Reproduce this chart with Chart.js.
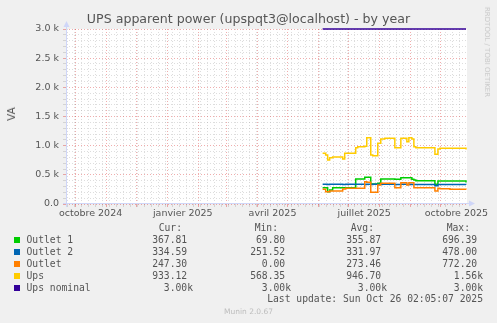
<!DOCTYPE html>
<html>
<head>
<meta charset="utf-8">
<script src="https://cdn.jsdelivr.net/npm/chart.js@4"></script>
<style>
  body { margin: 0; background: #f0f0f0; }
  #wrap { position: relative; width: 497px; height: 323px; overflow: hidden; font-family: "DejaVu Sans", sans-serif; color: #555; }
  #chart { position: absolute; left: 0; top: 0; }
  .t { position: absolute; white-space: pre; }
  .mono { font-family: "DejaVu Sans Mono", monospace; font-size: 9.7px; line-height: 12px; color: #555; }
  .sq { position: absolute; width: 6px; height: 6px; }
</style>
</head>
<body>
<div id="wrap">
  <canvas id="chart" width="497" height="323"></canvas>
  <div class="t" id="title" style="left:0;width:497px;top:11px;text-align:center;font-size:12.6px;color:#555;">UPS apparent power (upspqt3@localhost) - by year</div>
  <div class="t" style="left:11px;top:114px;font-size:10.5px;transform:translate(-50%,-50%) rotate(-90deg);">VA</div>
  <div class="t" style="left:487px;top:52px;font-size:7px;color:#c8c8c8;transform:translate(-50%,-50%) rotate(90deg);">RRDTOOL / TOBI OETIKER</div>
  <div class="t" style="left:0;width:497px;top:307px;text-align:center;font-size:7.5px;color:#bdbdbd;">Munin 2.0.67</div>
  <div id="legend"></div>
</div>
<script>
// series (x = days since 22 Sep 2024, the left edge of the graph)
const sampleDays = [256, 259, 261, 263, 266, 276, 278, 279, 289, 291, 298, 300, 304, 306, 311, 314, 318, 328, 334, 340, 342, 345, 347, 349, 368, 371, 373, 383, 399];
const outlet1 = [280, 280, 211, 240, 280, 280, 280, 280, 429, 429, 457, 457, 345, 345, 354, 429, 429, 423, 451, 451, 451, 423, 411, 400, 337, 394, 394, 394, 368];
const outlet2 = [340, 338, 336, 338, 338, 336, 336, 338, 338, 338, 336, 338, 336, 338, 336, 338, 338, 336, 338, 336, 338, 336, 336, 336, 314, 335, 336, 336, 335];
const outlet = [251, 211, 211, 223, 223, 257, 257, 269, 269, 269, 383, 371, 200, 200, 326, 354, 354, 280, 366, 326, 366, 366, 280, 280, 223, 269, 260, 255, 247];
const ups = [869, 840, 754, 794, 806, 771, 869, 869, 966, 983, 990, 1137, 840, 829, 1040, 1114, 1126, 966, 1126, 1068, 1137, 1114, 983, 966, 851, 943, 954, 954, 933];
const nominalDays = [256, 399];
const upsNominal = [3000, 3000];

const seriesNames = ["Outlet 1", "Outlet 2", "Outlet", "Ups", "Ups nominal"];
const seriesColors = ["#00cc00", "#0066b3", "#ff8000", "#ffcc00", "#330099"];
const curVals = [367.81, 334.59, 247.30, 933.12, 3000];
const minVals = [69.80, 251.52, 0.00, 568.35, 3000];
const avgVals = [355.87, 331.97, 273.46, 946.70, 3000];
const maxVals = [696.39, 478.00, 772.20, 1560, 3000];

// x tick labels: [year, month index]
const xLabelMonths = [[2024, 9], [2025, 0], [2025, 3], [2025, 6], [2025, 9]];
const xLabels = ["octobre 2024", "janvier 2025", "avril 2025", "juillet 2025", "octobre 2025"];

const DAY = 864e5;
const startUTC = Date.UTC(2024, 8, 22);
const dayOf = (y, m, d) => (Date.UTC(y, m, d) - startUTC) / DAY;

function buildXTicks() {
  const ticks = [];
  const monthStarts = [];
  for (let y = 2024, m = 9; ; m++) {
    if (m > 11) { m = 0; y++; }
    monthStarts.push(dayOf(y, m, 1));
    if (y === 2025 && m === 9) break;
  }
  for (let d = 1; d < 400; d += 7) {
    if (!monthStarts.includes(d)) ticks.push({ value: d, kind: "week" });
  }
  monthStarts.forEach((d) => ticks.push({ value: d, kind: "month" }));
  xLabelMonths.forEach(([y, m], i) => {
    const s = dayOf(y, m, 1);
    const len = dayOf(y, m + 1, 1) - s;
    ticks.push({ value: s + len / 2, kind: "label", text: xLabels[i] });
  });
  return ticks.sort((a, b) => a.value - b.value);
}

const pts = (xs, ys) => xs.map((x, i) => ({ x: x, y: ys[i] }));
const seriesData = [
  pts(sampleDays, outlet1),
  pts(sampleDays, outlet2),
  pts(sampleDays, outlet),
  pts(sampleDays, ups),
  pts(nominalDays, upsNominal),
];

const axisColor = "#cfd6f8";
const minorGrid = "rgba(150,150,150,0.32)";
const majorGrid = "rgba(220,60,60,0.42)";

// white canvas behind the plot, solid axis lines with arrows on top
const canvasDecor = {
  id: "canvasDecor",
  beforeDraw(chart) {
    const { ctx, chartArea: a } = chart;
    ctx.save();
    ctx.fillStyle = "#ffffff";
    ctx.fillRect(a.left, a.top, a.right - a.left, a.bottom - a.top);
    ctx.restore();
  },
  afterDraw(chart) {
    const { ctx, chartArea: a } = chart;
    const x0 = Math.round(a.left) + 0.5;
    const y0 = Math.round(a.bottom) - 0.5;
    ctx.save();
    ctx.strokeStyle = axisColor;
    ctx.fillStyle = axisColor;
    ctx.lineWidth = 1;
    ctx.beginPath();
    ctx.moveTo(x0, a.bottom + 3);
    ctx.lineTo(x0, a.top - 3);
    ctx.moveTo(a.left - 3, y0);
    ctx.lineTo(a.right + 3, y0);
    ctx.stroke();
    ctx.beginPath();
    ctx.moveTo(x0 - 3, a.top - 2);
    ctx.lineTo(x0 + 3, a.top - 2);
    ctx.lineTo(x0, a.top - 8);
    ctx.closePath();
    ctx.fill();
    ctx.beginPath();
    ctx.moveTo(a.right + 2, y0 - 3);
    ctx.lineTo(a.right + 2, y0 + 3);
    ctx.lineTo(a.right + 8, y0);
    ctx.closePath();
    ctx.fill();
    ctx.restore();
  },
};

new Chart(document.getElementById("chart").getContext("2d"), {
  type: "line",
  data: {
    datasets: seriesNames.map((name, i) => ({
      label: name,
      data: seriesData[i],
      borderColor: seriesColors[i],
      backgroundColor: seriesColors[i],
      borderWidth: 1.5,
      pointRadius: 0,
      stepped: true,
      fill: false,
      clip: 3,
      order: 4 - i,
    })),
  },
  options: {
    responsive: false,
    animation: false,
    devicePixelRatio: 1,
    layout: { padding: { left: 0, top: 29, right: 30, bottom: 99 } },
    plugins: { legend: { display: false }, tooltip: { enabled: false }, title: { display: false } },
    scales: {
      x: {
        type: "linear",
        min: 0,
        max: 400,
        afterBuildTicks(scale) { scale.ticks = buildXTicks(); },
        afterFit(scale) { scale.height = 20; },
        ticks: {
          autoSkip: false,
          maxRotation: 0,
          padding: 1,
          color: "#555",
          font: { family: "DejaVu Sans", size: 9.5 },
          callback(value, index, ticks) { return ticks[index].kind === "label" ? ticks[index].text : ""; },
        },
        grid: {
          tickLength: 3,
          color(ctx) {
            const k = ctx.tick && ctx.tick.kind;
            if (k === "month") return majorGrid;
            if (k === "week") return minorGrid;
            return "rgba(0,0,0,0)";
          },
        },
        border: { display: false, dash: [1, 2] },
      },
      y: {
        min: 0,
        max: 3000,
        afterFit(scale) { scale.width = 66; },
        ticks: {
          stepSize: 100,
          autoSkip: false,
          padding: 4,
          color: "#555",
          font: { family: "DejaVu Sans", size: 9.5 },
          callback(value) {
            if (value % 500 !== 0) return "";
            return value === 0 ? "0.0" : (value / 1000).toFixed(1) + " k";
          },
        },
        grid: {
          tickLength: 3,
          color(ctx) {
            const v = ctx.tick ? ctx.tick.value : 0;
            return v % 500 === 0 ? majorGrid : minorGrid;
          },
        },
        border: { display: false, dash: [1, 2] },
      },
    },
  },
  plugins: [canvasDecor],
});

// legend table
const fmt = (v) => (v >= 1000 ? (v / 1000).toFixed(2) + "k" : v.toFixed(2) + " ");
const legend = document.getElementById("legend");
const colRight = [193, 291, 387, 483];
const headRight = [182, 278, 374, 470];
const heads = ["Cur:", "Min:", "Avg:", "Max:"];
const cols = [curVals, minVals, avgVals, maxVals];
let html = "";
heads.forEach((h, c) => {
  html += `<div class="t mono" style="right:${497 - headRight[c]}px;top:222px;">${h}</div>`;
});
seriesNames.forEach((name, i) => {
  const top = 234 + 12 * i;
  html += `<div class="sq" style="left:14px;top:${top + 3}px;background:${seriesColors[i]};"></div>`;
  html += `<div class="t mono" style="left:26.5px;top:${top}px;">${name}</div>`;
  cols.forEach((vals, c) => {
    html += `<div class="t mono" style="right:${497 - colRight[c]}px;top:${top}px;">${fmt(vals[i])}</div>`;
  });
});
html += `<div class="t mono" style="right:${497 - 483}px;top:293px;">Last update: Sun Oct 26 02:05:07 2025</div>`;
legend.innerHTML = html;
</script>
</body>
</html>
